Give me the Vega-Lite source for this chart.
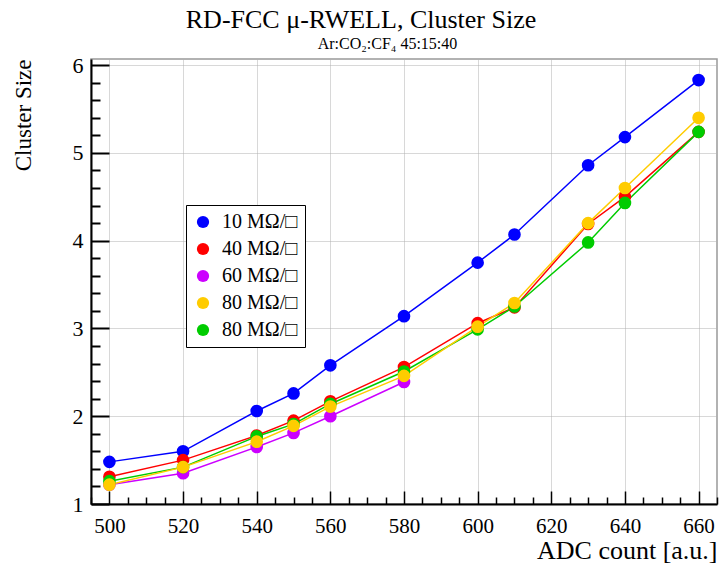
{
  "$schema": "https://vega.github.io/schema/vega-lite/v6.json",
  "autosize": "none",
  "width": 626,
  "height": 445,
  "padding": {"left": 91, "top": 59, "right": 3, "bottom": 67},
  "background": "white",
  "config": {
    "font": "Liberation Serif",
    "view": {"stroke": "#999999", "strokeWidth": 1.5}
  },
  "title": {
    "text": "RD-FCC μ-RWELL, Cluster Size",
    "anchor": "middle",
    "dx": -43,
    "offset": 2,
    "font": "Liberation Serif",
    "fontSize": 26,
    "fontWeight": "normal",
    "color": "black"
  },
  "data": {
    "values": [
      {"series": "10 MΩ/□#1", "adc": 500, "cs": 1.48},
      {"series": "10 MΩ/□#1", "adc": 520, "cs": 1.60},
      {"series": "10 MΩ/□#1", "adc": 540, "cs": 2.06},
      {"series": "10 MΩ/□#1", "adc": 550, "cs": 2.26},
      {"series": "10 MΩ/□#1", "adc": 560, "cs": 2.58},
      {"series": "10 MΩ/□#1", "adc": 580, "cs": 3.14},
      {"series": "10 MΩ/□#1", "adc": 600, "cs": 3.75},
      {"series": "10 MΩ/□#1", "adc": 610, "cs": 4.07},
      {"series": "10 MΩ/□#1", "adc": 630, "cs": 4.86},
      {"series": "10 MΩ/□#1", "adc": 640, "cs": 5.18},
      {"series": "10 MΩ/□#1", "adc": 660, "cs": 5.83},
      {"series": "40 MΩ/□#2", "adc": 500, "cs": 1.31},
      {"series": "40 MΩ/□#2", "adc": 520, "cs": 1.50},
      {"series": "40 MΩ/□#2", "adc": 540, "cs": 1.78},
      {"series": "40 MΩ/□#2", "adc": 550, "cs": 1.95},
      {"series": "40 MΩ/□#2", "adc": 560, "cs": 2.17},
      {"series": "40 MΩ/□#2", "adc": 580, "cs": 2.56},
      {"series": "40 MΩ/□#2", "adc": 600, "cs": 3.06},
      {"series": "40 MΩ/□#2", "adc": 610, "cs": 3.24},
      {"series": "40 MΩ/□#2", "adc": 630, "cs": 4.19},
      {"series": "40 MΩ/□#2", "adc": 640, "cs": 4.50},
      {"series": "40 MΩ/□#2", "adc": 660, "cs": 5.24},
      {"series": "60 MΩ/□#3", "adc": 500, "cs": 1.22},
      {"series": "60 MΩ/□#3", "adc": 520, "cs": 1.35},
      {"series": "60 MΩ/□#3", "adc": 540, "cs": 1.65},
      {"series": "60 MΩ/□#3", "adc": 550, "cs": 1.81},
      {"series": "60 MΩ/□#3", "adc": 560, "cs": 2.00},
      {"series": "60 MΩ/□#3", "adc": 580, "cs": 2.39},
      {"series": "80 MΩ/□#5", "adc": 500, "cs": 1.26},
      {"series": "80 MΩ/□#5", "adc": 520, "cs": 1.42},
      {"series": "80 MΩ/□#5", "adc": 540, "cs": 1.77},
      {"series": "80 MΩ/□#5", "adc": 550, "cs": 1.91},
      {"series": "80 MΩ/□#5", "adc": 560, "cs": 2.14},
      {"series": "80 MΩ/□#5", "adc": 580, "cs": 2.51},
      {"series": "80 MΩ/□#5", "adc": 600, "cs": 2.99},
      {"series": "80 MΩ/□#5", "adc": 610, "cs": 3.25},
      {"series": "80 MΩ/□#5", "adc": 630, "cs": 3.98},
      {"series": "80 MΩ/□#5", "adc": 640, "cs": 4.43},
      {"series": "80 MΩ/□#5", "adc": 660, "cs": 5.24},
      {"series": "80 MΩ/□#4", "adc": 500, "cs": 1.22},
      {"series": "80 MΩ/□#4", "adc": 520, "cs": 1.42},
      {"series": "80 MΩ/□#4", "adc": 540, "cs": 1.71},
      {"series": "80 MΩ/□#4", "adc": 550, "cs": 1.89},
      {"series": "80 MΩ/□#4", "adc": 560, "cs": 2.11},
      {"series": "80 MΩ/□#4", "adc": 580, "cs": 2.46},
      {"series": "80 MΩ/□#4", "adc": 600, "cs": 3.02},
      {"series": "80 MΩ/□#4", "adc": 610, "cs": 3.29},
      {"series": "80 MΩ/□#4", "adc": 630, "cs": 4.20},
      {"series": "80 MΩ/□#4", "adc": 640, "cs": 4.60},
      {"series": "80 MΩ/□#4", "adc": 660, "cs": 5.40}
    ]
  },
  "layer": [
    {
      "encoding": {
        "x": {
          "field": "adc",
          "type": "quantitative",
          "scale": {"domain": [495, 665], "nice": false, "zero": false},
          "axis": {
            "orient": "bottom",
            "title": "ADC count [a.u.]",
            "titleAnchor": "end",
            "titleFont": "Liberation Serif",
            "titleFontSize": 26,
            "titleFontWeight": "normal",
            "titleColor": "black",
            "titlePadding": 1,
            "values": [500, 520, 540, 560, 580, 600, 620, 640, 660],
            "labelFont": "Liberation Serif",
            "labelFontSize": 21,
            "labelColor": "black",
            "labelPadding": 11,
            "labelFlush": false,
            "labelOverlap": false,
            "domainColor": "black",
            "domainWidth": 2,
            "ticks": false,
            "grid": true,
            "gridColor": "#b0b0b0",
            "gridDash": [1, 1],
            "gridWidth": 1
          }
        },
        "y": {
          "field": "cs",
          "type": "quantitative",
          "scale": {"domain": [1, 6.07], "nice": false, "zero": false},
          "axis": {
            "orient": "left",
            "title": "Cluster Size",
            "titleAnchor": "end",
            "titleFont": "Liberation Serif",
            "titleFontSize": 23,
            "titleFontWeight": "normal",
            "titleColor": "black",
            "titlePadding": 37,
            "values": [1, 2, 3, 4, 5, 6],
            "format": "d",
            "labelFont": "Liberation Serif",
            "labelFontSize": 22,
            "labelColor": "black",
            "labelPadding": 8,
            "labelFlush": false,
            "labelOverlap": false,
            "domainColor": "black",
            "domainWidth": 2,
            "ticks": false,
            "grid": true,
            "gridColor": "#b0b0b0",
            "gridDash": [1, 1],
            "gridWidth": 1
          }
        },
        "color": {
          "field": "series",
          "type": "nominal",
          "scale": {
            "domain": ["10 MΩ/□#1", "40 MΩ/□#2", "60 MΩ/□#3", "80 MΩ/□#4", "80 MΩ/□#5"],
            "range": ["#0000ff", "#ff0000", "#cc00ff", "#ffcc00", "#00cc00"]
          },
          "legend": {
            "title": null,
            "orient": "none",
            "legendX": 95,
            "legendY": 146,
            "labelExpr": "split(datum.label, '#')[0]",
            "labelFont": "Liberation Serif",
            "labelFontSize": 20,
            "labelColor": "black",
            "symbolType": "circle",
            "symbolSize": 150,
            "symbolStrokeWidth": 0,
            "symbolOpacity": 1,
            "rowPadding": 7,
            "padding": 7,
            "strokeColor": "black",
            "fillColor": "white",
            "labelOffset": 9
          }
        }
      },
      "layer": [
        {"mark": {"type": "line", "strokeWidth": 1.5}, "encoding": {}},
        {"mark": {"type": "point", "shape": "circle", "filled": true, "opacity": 1, "size": 160}, "encoding": {}}
      ]
    },
    {
      "mark": {"type": "point", "opacity": 0},
      "encoding": {
        "x": {
          "field": "adc",
          "type": "quantitative",
          "scale": {"domain": [495, 665], "nice": false, "zero": false},
          "axis": {
            "orient": "bottom",
            "offset": -13,
            "title": null,
            "values": [500, 520, 540, 560, 580, 600, 620, 640, 660],
            "labels": false,
            "domain": false,
            "grid": false,
            "ticks": true,
            "tickColor": "black",
            "tickOpacity": 1,
            "tickWidth": 1.5,
            "tickSize": 13
          }
        },
        "y": {
          "field": "cs",
          "type": "quantitative",
          "scale": {"domain": [1, 6.07], "nice": false, "zero": false},
          "axis": {
            "orient": "left",
            "offset": -18,
            "title": null,
            "values": [1, 2, 3, 4, 5, 6],
            "labels": false,
            "domain": false,
            "grid": false,
            "ticks": true,
            "tickColor": "black",
            "tickOpacity": 1,
            "tickWidth": 2,
            "tickSize": 18
          }
        }
      }
    },
    {
      "mark": {"type": "point", "opacity": 0},
      "encoding": {
        "x": {
          "field": "adc",
          "type": "quantitative",
          "scale": {"domain": [495, 665], "nice": false, "zero": false},
          "axis": {
            "orient": "bottom",
            "offset": -7,
            "title": null,
            "values": [495, 505, 510, 515, 525, 530, 535, 545, 550, 555, 565, 570, 575, 585, 590, 595, 605, 610, 615, 625, 630, 635, 645, 650, 655, 665],
            "labels": false,
            "domain": false,
            "grid": false,
            "ticks": true,
            "tickColor": "black",
            "tickOpacity": 1,
            "tickWidth": 1.5,
            "tickSize": 7
          }
        },
        "y": {
          "field": "cs",
          "type": "quantitative",
          "scale": {"domain": [1, 6.07], "nice": false, "zero": false},
          "axis": {
            "orient": "left",
            "offset": -9,
            "title": null,
            "values": [1.2, 1.4, 1.6, 1.8, 2.2, 2.4, 2.6, 2.8, 3.2, 3.4, 3.6, 3.8, 4.2, 4.4, 4.6, 4.8, 5.2, 5.4, 5.6, 5.8],
            "labels": false,
            "domain": false,
            "grid": false,
            "ticks": true,
            "tickColor": "black",
            "tickOpacity": 1,
            "tickWidth": 2,
            "tickSize": 9
          }
        }
      }
    },
    {
      "mark": {"type": "point", "opacity": 0},
      "encoding": {
        "x": {
          "field": "adc",
          "type": "quantitative",
          "scale": {"domain": [495, 665], "nice": false, "zero": false},
          "axis": {
            "orient": "top",
            "title": "Ar:CO₂:CF₄ 45:15:40",
            "titleFont": "Liberation Serif",
            "titleFontSize": 16,
            "titleFontWeight": "normal",
            "titleColor": "black",
            "titleX": 296,
            "titleY": -8,
            "titleAlign": "center",
            "titleBaseline": "bottom",
            "labels": false,
            "domain": false,
            "ticks": false,
            "grid": false
          }
        },
        "y": {
          "field": "cs",
          "type": "quantitative",
          "scale": {"domain": [1, 6.07], "nice": false, "zero": false},
          "axis": null
        }
      }
    }
  ],
  "resolve": {"axis": {"x": "independent", "y": "independent"}}
}
